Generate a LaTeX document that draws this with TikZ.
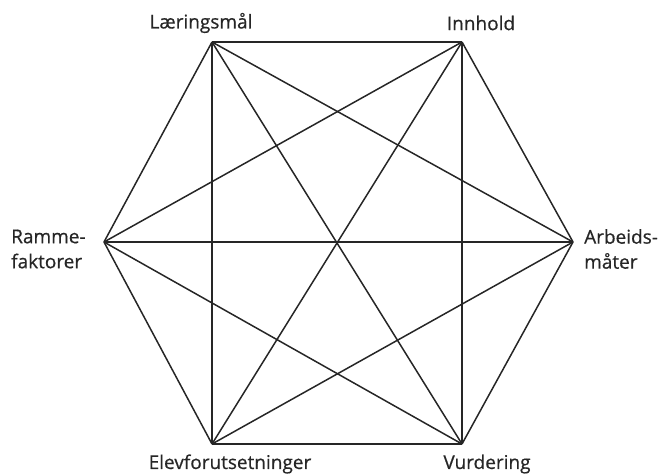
\documentclass[tikz,border=0pt]{standalone}
\usepackage{fontspec}
\setmainfont{Open Sans}[FakeBold=0.6]
\begin{document}
\begin{tikzpicture}[x=1pt,y=-1pt,
  edge/.style={line width=1.5pt,draw=black!85},
  lbl/.style={font=\fontsize{19}{25}\selectfont,text=black!85,inner sep=0pt},
  lblml/.style={lbl,align=left}]
\useasboundingbox (0,0) rectangle (663,475);
\coordinate (L) at (212,42);
\coordinate (I) at (462,42);
\coordinate (A) at (573,242);
\coordinate (V) at (462,444);
\coordinate (E) at (212,444);
\coordinate (R) at (104,242);
\foreach \a/\b in {L/I,L/A,L/V,L/E,L/R,I/A,I/V,I/E,I/R,A/V,A/E,A/R,V/E,V/R,E/R}
  \draw[edge] (\a) -- (\b);
\node[lbl] (tL) at (201,23) {Læringsmål};
\node[lbl] (tI) at (481,23) {Innhold};
\node[lblml,anchor=west] (tR) at (11,249) {Ramme-\\faktorer};
\node[lblml,anchor=west] (tA) at (584,249) {Arbeids-\\måter};
\node[lbl] (tE) at (230,464) {Elevforutsetninger};
\node[lbl] (tV) at (487,464) {Vurdering};
\end{tikzpicture}
\end{document}
